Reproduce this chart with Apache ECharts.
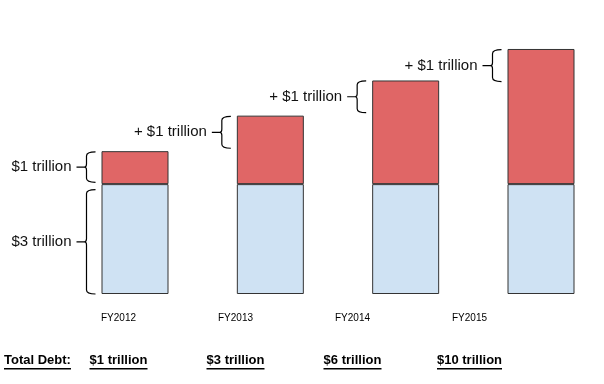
<!DOCTYPE html>
<html>
<head>
<meta charset="utf-8">
<script src="https://cdn.jsdelivr.net/npm/echarts@6/dist/echarts.min.js"></script>
<style>
html,body{margin:0;padding:0;background:#fff;}
#chart{width:604px;height:384px;}
</style>
</head>
<body>
<div id="chart"></div>
<script>
const categories = ['FY2012', 'FY2013', 'FY2014', 'FY2015'];
const baseDebt = [3, 3, 3, 3];
const addedDebt = [0.9, 1.87, 2.83, 3.69];
const totalDebtLabels = ['$1 trillion', '$3 trillion', '$6 trillion', '$10 trillion'];
const totalLabel = 'Total Debt:';
const braceCats = [0, 0, 1, 2, 3];
const braceLow = [0, 3.05, 3.98, 4.95, 5.8];
const braceHigh = [2.85, 3.88, 4.85, 5.82, 6.67];
const braceLabels = ['$3 trillion', '$1 trillion', '+ $1 trillion', '+ $1 trillion', '+ $1 trillion'];

const FONT = '"Liberation Sans", Arial, sans-serif';
const BAR_W = 67;

const ctx = document.createElement('canvas').getContext('2d');
function measure(text, font) { ctx.font = font; return ctx.measureText(text).width; }
const boldFont = 'bold 13px "Liberation Sans"';

const rich = {
  fy: { fontSize: 10, lineHeight: 14, color: '#000', fontFamily: FONT },
  sp: { lineHeight: 28, fontSize: 10 },
  td: { fontSize: 13, fontWeight: 'bold', lineHeight: 15, color: '#000', fontFamily: FONT }
};
totalDebtLabels.forEach((t, i) => {
  rich['ul' + i] = { width: Math.round(measure(t, boldFont)), height: 1.5, lineHeight: 1.5, backgroundColor: '#000' };
});
const titleRich = {
  td: { fontSize: 13, fontWeight: 'bold', lineHeight: 15, color: '#000', fontFamily: FONT },
  ul: { width: Math.round(measure(totalLabel, boldFont)), height: 1.5, lineHeight: 1.5, backgroundColor: '#000' }
};

const braceData = braceCats.map((c, i) => [c, braceLow[i], braceHigh[i]]);

const chart = echarts.init(document.getElementById('chart'), null, { renderer: 'canvas' });
chart.setOption({
  animation: false,
  backgroundColor: '#fff',
  title: {
    text: '{td|' + totalLabel + '}\n{ul|}',
    left: 4, top: 353, padding: 0,
    textStyle: { rich: titleRich }
  },
  grid: [
    { left: 135, right: 63, top: 1, bottom: 90 },
    { left: 60, width: 468, top: 300, height: 1 }
  ],
  xAxis: [
    { type: 'category', gridIndex: 0, data: categories, boundaryGap: false, show: false },
    {
      type: 'category', gridIndex: 1, data: categories,
      axisLine: { show: false }, axisTick: { show: false },
      axisLabel: {
        margin: 10, interval: 0,
        formatter: (v, i) => '{fy|' + v + '}\n{sp|}\n{td|' + totalDebtLabels[i] + '}\n{ul' + i + '|}',
        rich: rich
      }
    }
  ],
  yAxis: [
    { type: 'value', gridIndex: 0, min: 0, max: 8, show: false },
    { type: 'value', gridIndex: 1, show: false }
  ],
  series: [
    {
      type: 'bar', stack: 'debt', data: baseDebt, barWidth: BAR_W, clip: false,
      itemStyle: { color: '#cfe2f3', borderColor: '#333', borderWidth: 1 }
    },
    {
      type: 'bar', stack: 'debt', data: addedDebt, barWidth: BAR_W, clip: false,
      itemStyle: { color: '#e06666', borderColor: '#333', borderWidth: 1 }
    },
    {
      type: 'custom', data: braceData, clip: false, z: 5,
      encode: { x: 0, y: [1, 2] },
      renderItem: function (params, api) {
        const cat = api.value(0);
        const pLow = api.coord([cat, api.value(1)]);
        const pHigh = api.coord([cat, api.value(2)]);
        const barLeft = pLow[0] - BAR_W / 2;
        const y0 = pHigh[1], y1 = pLow[1], ym = (y0 + y1) / 2;
        const r = barLeft - 6, v = r - 9, c = r - 11;
        const path = [
          'M', r, y0, 'Q', v, y0, v, y0 + 4,
          'L', v, ym - 3, 'Q', v, ym, c, ym,
          'Q', v, ym, v, ym + 3,
          'L', v, y1 - 4, 'Q', v, y1, r, y1,
          'M', c - 8, ym, 'L', c, ym
        ].join(' ');
        return {
          type: 'group',
          children: [
            { type: 'path', shape: { pathData: path }, style: { stroke: '#000', fill: null, lineWidth: 1.2 } },
            {
              type: 'text',
              style: {
                text: braceLabels[params.dataIndex], x: c - 13, y: ym,
                align: 'right', verticalAlign: 'middle',
                fontSize: 15, fontFamily: FONT, fill: '#111'
              }
            }
          ]
        };
      }
    }
  ]
});
</script>
</body>
</html>
